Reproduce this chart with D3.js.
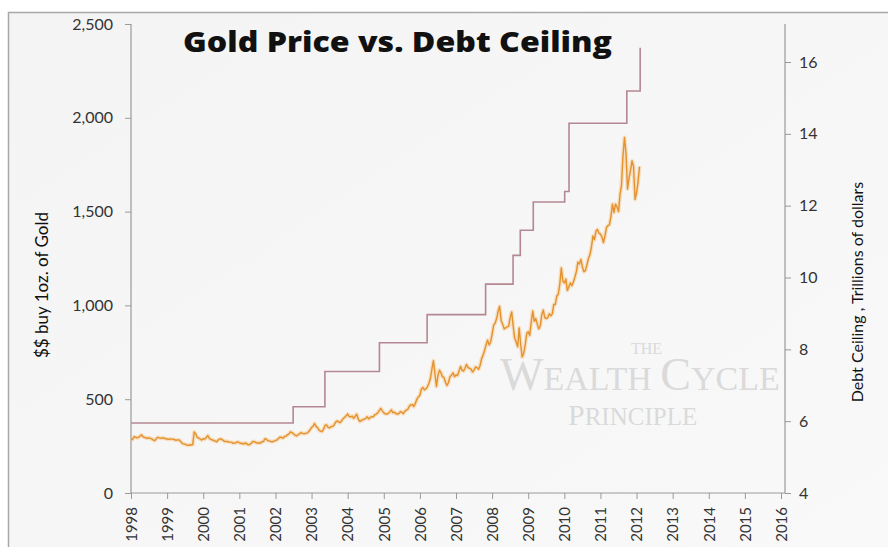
<!DOCTYPE html>
<html><head><meta charset="utf-8">
<script src="https://cdn.jsdelivr.net/npm/d3@7/dist/d3.min.js"></script>
<style>html,body{margin:0;padding:0;background:#fff;}svg{display:block;}</style>
</head><body>
<svg id="chart" width="888" height="547"></svg>
<script>
// ---- data ----
const title = "Gold Price vs. Debt Ceiling";
const leftLabel = "$$ buy 1oz. of Gold";
const rightLabel = "Debt Ceiling , Trillions of dollars";
const yearTicks = d3.range(1998, 2017);
const goldTicks = [0, 500, 1000, 1500, 2000, 2500];
const debtTicks = [4, 6, 8, 10, 12, 14, 16];

// gold price, two readings per month starting Jan 1998
const goldStart = 1998;
const goldPerYear = 24;
const goldPrices = [
 289,285,300,298,294,297,303,310,300,297,293,292,294,291,287,281,280,292,297,294,292,294,293,289,
 288,286,288,287,287,284,281,283,283,275,265,262,260,256,254,257,256,258,325,315,297,293,288,282,
 289,287,296,306,292,286,283,280,277,273,283,288,288,282,276,274,275,272,271,270,265,266,270,273,
 268,264,265,261,267,262,257,259,266,275,273,270,266,268,266,273,274,289,287,279,278,274,273,277,
 279,283,290,298,297,292,301,302,310,315,326,322,316,308,304,311,315,322,318,316,318,319,326,337,
 349,356,370,355,348,335,329,328,340,361,363,350,347,354,355,363,378,384,379,375,385,397,403,412,
 421,408,406,410,398,408,420,395,382,385,391,393,398,406,395,402,407,406,417,421,427,439,451,438,
 428,422,421,425,432,443,428,431,424,420,423,434,430,423,435,442,446,464,470,472,461,478,500,512,
 521,555,563,550,555,566,585,610,660,705,637,568,625,655,641,620,616,590,573,589,620,628,641,620,
 629,626,650,675,655,650,665,685,668,665,660,645,655,672,668,660,680,715,735,760,790,815,790,805,
 845,895,905,930,970,995,920,900,875,880,885,890,935,965,890,825,805,780,880,790,725,745,790,850,
 860,840,910,970,915,930,900,875,890,950,975,935,930,935,955,945,955,1005,1005,1050,1060,1115,1200,1130,
 1120,1140,1080,1100,1120,1105,1125,1150,1180,1230,1220,1245,1205,1180,1185,1215,1250,1270,1310,1370,1350,1395,1405,1385,
 1380,1365,1335,1370,1415,1425,1430,1475,1540,1495,1540,1525,1500,1590,1640,1800,1895,1810,1620,1680,1720,1770,1740,1565,
 1600,1660,1740
];

// debt ceiling (trillions), step changes
const debtDates  = [1998, 2002.49, 2003.37, 2004.88, 2006.2, 2007.82, 2008.58, 2008.78, 2009.14, 2010.01, 2010.13, 2011.73, 2012.1];
const debtValues = [5.95, 6.4, 7.384, 8.184, 8.965, 9.815, 10.615, 11.315, 12.104, 12.394, 14.294, 15.194, 16.394];

// ---- layout ----
const svg = d3.select("#chart");
const X0 = 131, X1 = 781, XR = 785, YB = 493, YT = 24;
const x = d3.scaleLinear().domain([1998, 2016]).range([X0, X1]);
const yL = d3.scaleLinear().domain([0, 2500]).range([YB, YT]);
const yR = d3.scaleLinear().domain([4, 16]).range([YB, 62]);

const fontUI = "Lato, 'Open Sans', sans-serif";

// frame
const bg = svg.append("defs").append("linearGradient").attr("id","bg").attr("x1",0).attr("y1",0).attr("x2",1).attr("y2",1);
bg.append("stop").attr("offset","0").attr("stop-color","#f4f4f4");
bg.append("stop").attr("offset","1").attr("stop-color","#f9f9f9");
svg.append("rect").attr("x", 8.5).attr("y", 12.5).attr("width", 900).attr("height", 600)
  .attr("fill", "url(#bg)").attr("stroke", "#a8a8a8").attr("stroke-width", 1.5);

// watermark (one text block, three lines)
const wm = svg.append("text").attr("fill", "#dadada")
  .attr("font-family", "'Liberation Serif', 'DejaVu Serif', serif").attr("font-size", 34);
wm.append("tspan").attr("x", 631).attr("y", 354).attr("font-size", 16).text("THE");
wm.append("tspan").attr("x", 500).attr("y", 390).attr("font-size", 46).text("W");
wm.append("tspan").text("EALTH ");
wm.append("tspan").attr("font-size", 46).text("C");
wm.append("tspan").text("YCLE");
wm.append("tspan").attr("x", 568).attr("y", 425).attr("font-size", 30).text("P");
wm.append("tspan").attr("font-size", 25).text("RINCIPLE");

// title
svg.append("text").attr("x", 183).attr("y", 52).attr("font-family", "'Open Sans', sans-serif")
  .attr("font-weight", 800).attr("font-size", 29).attr("fill", "#111")
  .attr("textLength", 429).attr("lengthAdjust", "spacingAndGlyphs").text(title);

// axes
const axisColor = "#9a9a9a";
const gL = svg.append("g").attr("transform", `translate(${X0},0)`)
  .call(d3.axisLeft(yL).tickValues(goldTicks).tickSize(6).tickPadding(12).tickFormat(d3.format(",")));
const gR = svg.append("g").attr("transform", `translate(${XR},0)`)
  .call(d3.axisRight(yR).tickValues(debtTicks).tickSize(6).tickPadding(8));
const gB = svg.append("g").attr("transform", `translate(0,${YB})`)
  .call(d3.axisBottom(x).tickValues(yearTicks).tickSize(6).tickFormat(d3.format("d")));
[gL, gR, gB].forEach(g => {
  g.select(".domain").remove();
  g.selectAll(".tick line").attr("stroke", axisColor);
  g.selectAll("text").attr("font-family", fontUI).attr("font-size", 16).attr("fill", "#333");
});
gB.selectAll("text").attr("transform", "rotate(-90)").attr("text-anchor", "end")
  .attr("x", -14).attr("y", 0).attr("dy", "0.35em").attr("font-size", 15);
svg.append("path").attr("d", `M${X0},${YT}V${YB}H${XR}V${YT}`).attr("fill", "none")
  .attr("stroke", axisColor).attr("stroke-width", 1.2);

// axis titles
svg.append("text").attr("transform", "translate(48,285) rotate(-90)").attr("text-anchor", "middle")
  .attr("font-family", fontUI).attr("font-size", 17).attr("fill", "#111").text(leftLabel);
svg.append("text").attr("transform", "translate(863,292) rotate(-90)").attr("text-anchor", "middle")
  .attr("font-family", fontUI).attr("font-size", 16).attr("fill", "#111").text(rightLabel);

// debt ceiling step line
const debtData = debtDates.map((d, i) => [d, debtValues[i]]);
svg.append("path").datum(debtData)
  .attr("d", d3.line().x(d => x(d[0])).y(d => yR(d[1])).curve(d3.curveStepAfter))
  .attr("fill", "none").attr("stroke", "#b48892").attr("stroke-width", 1.6);

// gold line
const goldData = goldPrices.map((v, i) => [goldStart + i / goldPerYear, v]);
const goldLine = d3.line().x(d => x(d[0])).y(d => yL(d[1]));
svg.append("path").datum(goldData).attr("d", goldLine).attr("fill", "none")
  .attr("stroke", "#f6c27c").attr("stroke-width", 4).attr("stroke-opacity", 0.45).attr("stroke-linejoin", "round");
svg.append("path").datum(goldData).attr("d", goldLine).attr("fill", "none")
  .attr("stroke", "#e4922e").attr("stroke-width", 1.4).attr("stroke-linejoin", "round");
</script>
</body></html>
